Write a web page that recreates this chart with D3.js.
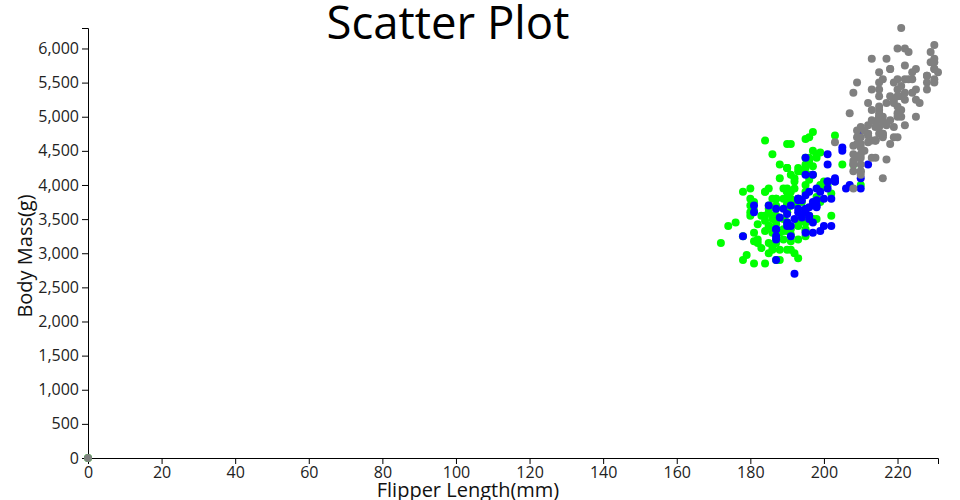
<!DOCTYPE html>
<html>
<head>
<meta charset="utf-8">
<script src="https://cdn.jsdelivr.net/npm/d3@7"></script>
<style>
  body { margin: 0; background: #fff; }
  svg { display: block; font-family: "Open Sans", sans-serif; }
</style>
</head>
<body>
<svg id="chart" width="960" height="500"></svg>
<script>
// [flipper length (mm), body mass (g)]; missing values drawn at 0,0
const adelie = [
  [181,3750],[186,3800],[195,3250],[0,0],[193,3450],[190,3650],[181,3625],[195,4675],[193,3475],[190,4250],
  [186,3300],[180,3700],[182,3200],[191,3800],[198,4400],[185,3700],[195,3450],[197,4500],[184,3325],[194,4200],
  [174,3400],[180,3600],[189,3800],[185,3950],[180,3800],[187,3800],[183,3550],[187,3200],[172,3150],[180,3950],
  [178,3250],[178,3900],[188,3300],[184,3900],[195,3325],[196,4150],[190,3950],[180,3550],[181,3300],[184,4650],
  [182,3150],[195,3900],[186,3100],[196,4400],[185,3000],[190,4600],[182,3425],[179,2975],[190,3450],[191,4150],
  [186,3500],[188,4300],[190,3450],[200,4050],[187,2900],[191,3700],[186,3550],[193,3800],[181,2850],[194,3750],
  [185,3150],[195,4400],[185,3600],[192,4050],[184,2850],[192,3950],[195,3350],[188,4100],[190,3050],[198,4450],
  [190,3600],[190,3900],[196,3550],[197,4150],[190,3700],[195,4250],[191,3700],[184,3900],[187,3550],[195,4000],
  [189,3200],[196,4700],[187,3800],[193,4200],[191,3350],[194,3550],[190,3800],[189,3500],[189,3950],[190,3600],
  [202,3550],[205,4300],[185,3400],[186,4450],[187,3300],[208,4300],[190,3700],[196,4350],[178,2900],[192,4100],
  [192,3725],[203,4725],[183,3075],[190,4250],[193,2925],[184,3550],[199,3750],[190,3900],[181,3175],[197,4775],
  [198,3825],[191,4600],[193,3200],[197,4275],[191,3900],[196,4075],[188,2900],[199,3775],[189,3350],[189,3325],
  [187,3150],[198,3500],[176,3450],[202,3875],[186,3050],[199,4000],[191,3275],[195,4300],[191,3050],[210,4000],
  [190,3325],[197,3500],[193,3500],[199,4475],[187,3425],[190,3900],[191,3175],[200,3975],[185,3400],[193,4250],
  [193,3400],[187,3475],[188,3050],[190,3725],[192,3000],[185,3650],[190,4250],[184,3475],[195,3450],[193,3750],
  [187,3700],[201,4000]
];
const chinstrap = [
  [192,3500],[196,3900],[193,3650],[188,3525],[197,3725],[198,3950],[178,3250],[197,3750],[195,4150],[198,3700],
  [193,3800],[194,3775],[185,3700],[201,4050],[190,3575],[201,4050],[197,3300],[181,3700],[190,3450],[195,4400],
  [181,3600],[191,3400],[187,2900],[193,3800],[195,3300],[197,4150],[200,3400],[200,3800],[191,3700],[205,4550],
  [187,3200],[201,4300],[187,3350],[203,4100],[195,3600],[199,3900],[195,3850],[210,4800],[192,2700],[205,4500],
  [210,3950],[187,3650],[196,3550],[196,3500],[196,3675],[201,4450],[190,3400],[212,4300],[187,3250],[198,3675],
  [199,3325],[201,3950],[193,3600],[203,4050],[187,3350],[197,3450],[191,3250],[203,4050],[202,3800],[194,3525],
  [206,3950],[189,3650],[195,3650],[207,4000],[202,3400],[193,3775],[210,4100],[198,3775]
];
const gentoo = [
  [211,4500],[230,5700],[210,4450],[218,5700],[215,5400],[210,4550],[211,4800],[219,5200],[209,4400],[215,5150],
  [214,4650],[216,5550],[214,4650],[213,5850],[210,4200],[217,5850],[210,4150],[221,6300],[209,4800],[222,5350],
  [218,5700],[215,5000],[213,4400],[215,5050],[215,5000],[215,5100],[216,4100],[215,5650],[210,4600],[220,5550],
  [222,5250],[209,4700],[207,5050],[230,6050],[220,5150],[220,5400],[213,4950],[219,5250],[208,4350],[208,5350],
  [208,3950],[225,5700],[210,4300],[216,4750],[222,5550],[217,4900],[210,4200],[225,5400],[213,5100],[215,5300],
  [210,4850],[220,5300],[210,4400],[225,5000],[217,4900],[220,5050],[208,4300],[220,5000],[208,4450],[224,5550],
  [208,4200],[221,5300],[214,4400],[231,5650],[219,4700],[230,5700],[214,4650],[229,5800],[220,4700],[223,5550],
  [216,4750],[221,5000],[221,5100],[217,5200],[216,4700],[230,5800],[209,4600],[220,6000],[215,4750],[223,5950],
  [212,4625],[221,5450],[212,4725],[224,5350],[212,4750],[228,5600],[218,4600],[218,5300],[212,4875],[230,5550],
  [218,4950],[228,5400],[212,4750],[224,5650],[214,4850],[226,5200],[216,4925],[222,4875],[203,4625],[225,5250],
  [219,4850],[228,5600],[215,4975],[228,5500],[216,4725],[215,5500],[210,4700],[219,5500],[208,4575],[209,5500],
  [216,5000],[229,5950],[213,4650],[230,5500],[217,4375],[230,5850],[217,4875],[222,6000],[214,4925],[0,0],
  [215,4850],[222,5750],[212,5200],[213,5400]
];
const speciesNames = ["Adelie", "Chinstrap", "Gentoo"];
const speciesColors = ["#00ff00", "#0000ff", "#808080"];
const xTickValues = [0,20,40,60,80,100,120,140,160,180,200,220];
const yTickValues = [0,500,1000,1500,2000,2500,3000,3500,4000,4500,5000,5500,6000];
const titleText = "Scatter Plot";
const xLabel = "Flipper Length(mm)";
const yLabel = "Body Mass(g)";

const svg = d3.select("#chart");
const W = 960, H = 500;
const margin = {top: 28, right: 22, bottom: 42, left: 88};

const allData = [adelie, chinstrap, gentoo];
const xMax = d3.max(allData.flat(), d => d[0]);
const yMax = d3.max(allData.flat(), d => d[1]);

const x = d3.scaleLinear().domain([0, xMax]).range([margin.left, W - margin.right]);
const y = d3.scaleLinear().domain([0, yMax]).range([H - margin.bottom, margin.top]);

const xAxis = svg.append("g")
  .attr("transform", `translate(0,${H - margin.bottom})`)
  .call(d3.axisBottom(x).tickValues(xTickValues).tickFormat(d3.format("d")));
const yAxis = svg.append("g")
  .attr("transform", `translate(${margin.left},0)`)
  .call(d3.axisLeft(y).tickValues(yTickValues).tickFormat(d3.format(",")));
[xAxis, yAxis].forEach(g => g.selectAll("text").attr("font-size", 16).attr("font-family", "Open Sans, sans-serif").attr("fill", "#222"));

allData.forEach((data, i) => {
  svg.append("g")
    .attr("class", speciesNames[i])
    .selectAll("circle")
    .data(data)
    .join("circle")
    .attr("cx", d => x(d[0]))
    .attr("cy", d => y(d[1]))
    .attr("r", 4)
    .attr("fill", speciesColors[i]);
});

svg.append("text")
  .attr("x", 448).attr("y", 39)
  .attr("text-anchor", "middle")
  .attr("font-size", 45.5)
  .attr("fill", "#000")
  .text(titleText);

svg.append("text")
  .attr("x", 468).attr("y", 497)
  .attr("text-anchor", "middle")
  .attr("font-size", 20)
  .attr("fill", "#111")
  .text(xLabel);

svg.append("text")
  .attr("transform", `translate(32,256) rotate(-90)`)
  .attr("text-anchor", "middle")
  .attr("font-size", 20)
  .attr("fill", "#111")
  .text(yLabel);
</script>
</body>
</html>
